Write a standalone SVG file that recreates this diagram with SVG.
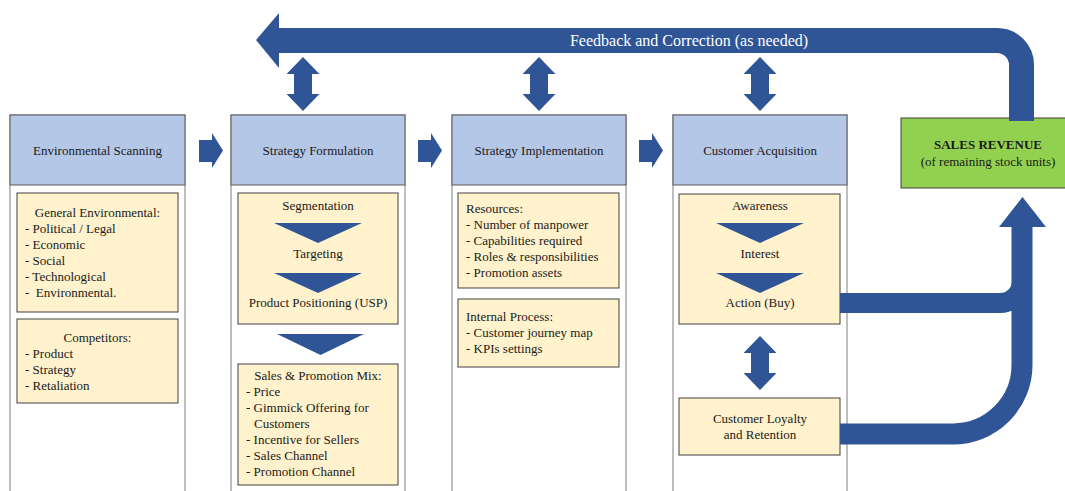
<svg xmlns="http://www.w3.org/2000/svg" width="1065" height="491" viewBox="0 0 1065 491">
  <style>
    text { font-family: "Liberation Serif", "Times New Roman", serif; font-size: 13px; fill: #1a1a1a; }
    .c { text-anchor: middle; }
    .col { fill: #ffffff; stroke: #7f7f7f; stroke-width: 1; }
    .head { fill: #b4c7e7; stroke: #595959; stroke-width: 1; }
    .box { fill: #fff2cc; stroke: #404040; stroke-width: 1; }
    .blue { fill: #2f5597; }
    .flow { fill: none; stroke: #2f5597; }
    .fb { fill: #ffffff; font-size: 16px; }
  </style>
  <defs>
    <path id="dbl" d="M0,0 L16.5,17 L9,17 L9,37 L16.5,37 L0,54 L-16.5,37 L-9,37 L-9,17 L-16.5,17 Z"/>
    <path id="right" d="M0,7 H13 V0 L24,17.5 L13,35 V29 H0 Z"/>
    <path id="tri" d="M-44,0 H44 L0,20 Z"/>
  </defs>

  <!-- Environmental Scanning -->
  <g id="env-scanning">
    <rect class="col" x="10" y="115" width="175" height="390"/>
    <rect class="head" x="10" y="115" width="175" height="70"/>
    <text class="c" x="97.5" y="155">Environmental Scanning</text>
    <rect class="box" x="17" y="193" width="161" height="119"/>
    <text class="c" x="97.5" y="217">General Environmental:</text>
    <text x="25" y="233">- Political / Legal</text>
    <text x="25" y="249">- Economic</text>
    <text x="25" y="265">- Social</text>
    <text x="25" y="281">- Technological</text>
    <text x="25" y="297" xml:space="preserve">-  Environmental.</text>
    <rect class="box" x="17" y="319" width="161" height="84"/>
    <text class="c" x="97.5" y="342">Competitors:</text>
    <text x="25" y="358">- Product</text>
    <text x="25" y="374">- Strategy</text>
    <text x="25" y="390">- Retaliation</text>
  </g>

  <!-- Strategy Formulation -->
  <g id="strategy-formulation">
    <rect class="col" x="231" y="115" width="174" height="390"/>
    <rect class="head" x="231" y="115" width="174" height="70"/>
    <text class="c" x="318" y="155">Strategy Formulation</text>
    <rect class="box" x="238" y="193" width="160" height="131"/>
    <text class="c" x="318" y="210">Segmentation</text>
    <use href="#tri" class="blue" x="318" y="223"/>
    <text class="c" x="318" y="258">Targeting</text>
    <use href="#tri" class="blue" x="318" y="273"/>
    <text class="c" x="318" y="307">Product Positioning (USP)</text>
    <polygon class="blue" points="277,334 364,334 320.5,355"/>
    <rect class="box" x="238" y="364" width="160" height="121"/>
    <text class="c" x="318" y="380">Sales &amp; Promotion Mix:</text>
    <text x="246" y="396">- Price</text>
    <text x="246" y="412">- Gimmick Offering for</text>
    <text x="254" y="428">Customers</text>
    <text x="246" y="444">- Incentive for Sellers</text>
    <text x="246" y="460">- Sales Channel</text>
    <text x="246" y="476">- Promotion Channel</text>
  </g>

  <!-- Strategy Implementation -->
  <g id="strategy-implementation">
    <rect class="col" x="452" y="115" width="174" height="390"/>
    <rect class="head" x="452" y="115" width="174" height="70"/>
    <text class="c" x="539" y="155">Strategy Implementation</text>
    <rect class="box" x="458" y="193" width="161" height="95"/>
    <text x="466" y="213">Resources:</text>
    <text x="466" y="229">- Number of manpower</text>
    <text x="466" y="245">- Capabilities required</text>
    <text x="466" y="261">- Roles &amp; responsibilities</text>
    <text x="466" y="277">- Promotion assets</text>
    <rect class="box" x="458" y="299" width="161" height="68"/>
    <text x="466" y="321">Internal Process:</text>
    <text x="466" y="337">- Customer journey map</text>
    <text x="466" y="353">- KPIs settings</text>
  </g>

  <!-- Customer Acquisition -->
  <g id="customer-acquisition">
    <rect class="col" x="673" y="115" width="174" height="390"/>
    <rect class="head" x="673" y="115" width="174" height="70"/>
    <text class="c" x="760" y="155">Customer Acquisition</text>
    <rect class="box" x="679" y="194" width="161" height="130"/>
    <text class="c" x="760" y="210">Awareness</text>
    <use href="#tri" class="blue" x="760" y="223"/>
    <text class="c" x="760" y="258">Interest</text>
    <use href="#tri" class="blue" x="760" y="273"/>
    <text class="c" x="760" y="307">Action (Buy)</text>
    <use href="#dbl" class="blue" x="760" y="336"/>
    <rect class="box" x="679" y="398" width="161" height="57"/>
    <text class="c" x="760" y="423">Customer Loyalty</text>
    <text class="c" x="760" y="439">and Retention</text>
  </g>

  <!-- Sales Revenue -->
  <g id="sales-revenue">
    <rect x="901" y="118" width="175" height="70" fill="#92d050" stroke="#404040" stroke-width="1"/>
    <text class="c" x="988" y="149" font-weight="bold">SALES REVENUE</text>
    <text class="c" x="988" y="166">(of remaining stock units)</text>
  </g>

  <!-- Connectors -->
  <g id="connectors">
    <!-- feedback loop across the top -->
    <path class="flow" stroke-width="25" d="M276,40.5 H997 A24.5,24.5 0 0 1 1021.5,65 V121"/>
    <polygon class="blue" points="256,40 279,13 279,68"/>
    <text class="fb c" x="689" y="46">Feedback and Correction (as needed)</text>
    <!-- stage-to-feedback links -->
    <use href="#dbl" class="blue" x="303" y="57"/>
    <use href="#dbl" class="blue" x="539" y="57"/>
    <use href="#dbl" class="blue" x="760" y="57"/>
    <!-- stage-to-stage arrows -->
    <use href="#right" class="blue" x="199" y="133"/>
    <use href="#right" class="blue" x="418" y="133"/>
    <use href="#right" class="blue" x="639" y="133"/>
    <!-- revenue flows -->
    <path class="flow" stroke-width="20" d="M840,303 H1000 A22,22 0 0 0 1022,281 V224"/>
    <path class="flow" stroke-width="21" d="M840,434 H953 A69,69 0 0 0 1022,365 V224"/>
    <polygon class="blue" points="1022.5,197 1046,227 999,227"/>
  </g>
</svg>
